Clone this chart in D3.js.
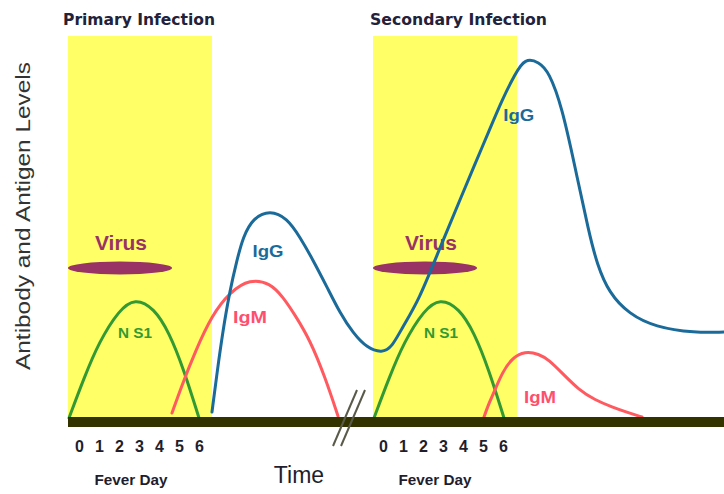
<!DOCTYPE html>
<html>
<head>
<meta charset="utf-8">
<script src="https://cdn.jsdelivr.net/npm/d3@7"></script>
<style>
  html, body { margin: 0; padding: 0; background: #ffffff; }
  svg { display: block; }
</style>
</head>
<body>
<svg id="chart" width="724" height="494"></svg>
<script>
// ---------------- data (time in "days", level 0-100) ----------------
const feverDays = [0, 1, 2, 3, 4, 5, 6];
const secondaryStart = 15.2;            // time at which secondary fever day 0 sits
const feverWindows = [[-0.55, 6.65], [14.7, 21.9]];
const panelTitles = ["Primary Infection", "Secondary Infection"];

const ns1Primary = [
  [-0.5, 0], [-0.5, 0], [0.25, 10], [1.0, 19], [2.0, 27], [2.8, 30],
  [3.75, 27.5], [4.5, 21.5], [5.25, 12], [6.0, 0], [6.0, 0]
];
const ns1Secondary = [
  [14.75, 0], [14.75, 0], [15.5, 10], [16.25, 19], [17.25, 27], [18.05, 30],
  [19.0, 27.5], [19.75, 21.5], [20.5, 12], [21.25, 0], [21.25, 0]
];
const igmPrimary = [
  [4.65, 1.25], [4.65, 1.25], [5.15, 8.25], [5.8, 16.5], [6.65, 25.75], [7.55, 31.5],
  [8.55, 34.75], [9.55, 33.75], [10.2, 30.25], [10.8, 25.75], [11.55, 19.5],
  [12.3, 10.25], [12.95, 0.5], [12.95, 0.5]
];
const igmSecondary = [
  [20.25, 0.25], [20.25, 0.25], [20.5, 3.75], [20.8, 7], [21.15, 11.25], [21.65, 15],
  [22.3, 16.75], [23.0, 16], [23.5, 14.5], [24.15, 11.25], [25.0, 7], [25.8, 4.5],
  [26.65, 2.75], [27.5, 1.25], [28.15, 0.25], [28.15, 0.25]
];
const igg = [
  [6.65, 1.5], [6.65, 1.5], [6.9, 11.25], [7.2, 22], [7.55, 32], [7.9, 39.5], [8.2, 45.25],
  [8.7, 50], [9.55, 52], [10.4, 50], [11.05, 45.25], [11.7, 39.5],
  [12.4, 32.75], [13.05, 26.25], [13.7, 21.25], [14.4, 17.5], [15.15, 16.25],
  [15.65, 17.75], [16.15, 22.5], [17.0, 29.5], [18.0, 42], [19.15, 55.75],
  [19.8, 63.5], [20.5, 71.75], [21.15, 79.5], [21.8, 86], [22.3, 90],
  [23.0, 89], [23.5, 86.5], [24.15, 77.75], [24.8, 62.75], [25.5, 46.25],
  [25.9, 38.5], [26.5, 31.25], [27.5, 26], [28.8, 22.75], [30.8, 21.25],
  [32.25, 21.5], [32.25, 21.5]
];
const virusCenters = [2.05, 17.3];
const virusLevel = 37.5;
const virusHalfWidth = 2.6;

// ---------------- setup ----------------
const svg = d3.select("#chart");
const x = d3.scaleLinear().domain([0, 32.25]).range([79, 724]);
const y = d3.scaleLinear().domain([0, 100]).range([418, 18]);

const C = {
  yellow: "#ffff66", base: "#333300", green: "#339933", red: "#ff5a5f",
  blue: "#1a6a9a", virus: "#993366", title: "#22223a", text: "#1e1e2e"
};

// yellow fever windows
svg.selectAll("rect.win").data(feverWindows).enter().append("rect")
  .attr("class", "win")
  .attr("x", d => x(d[0])).attr("width", d => x(d[1]) - x(d[0]))
  .attr("y", 36).attr("height", y(0) - 36)
  .attr("fill", C.yellow);

// panel titles
svg.selectAll("text.title").data(panelTitles).enter().append("text")
  .attr("class", "title")
  .attr("x", (d, i) => i === 0 ? 63 : 370).attr("y", 25)
  .attr("textLength", (d, i) => i === 0 ? 152 : 177)
  .attr("lengthAdjust", "spacingAndGlyphs")
  .style("font-family", "'DejaVu Sans', sans-serif").style("font-weight", "bold")
  .style("font-size", "15px").attr("fill", C.title).text(d => d);

// virus ellipses
svg.selectAll("ellipse.virus").data(virusCenters).enter().append("ellipse")
  .attr("cx", d => x(d)).attr("cy", y(virusLevel))
  .attr("rx", x(virusHalfWidth) - x(0)).attr("ry", 6.5)
  .attr("fill", C.virus);

// labels
function label(t, lvl, txt, color, size, len) {
  const el = svg.append("text")
    .attr("x", x(t)).attr("y", y(lvl)).attr("text-anchor", "middle")
    .style("font-family", "'Liberation Sans', Arial, sans-serif")
    .style("font-weight", "bold").style("font-size", size + "px")
    .attr("fill", color).text(txt);
  if (len) el.attr("textLength", len).attr("lengthAdjust", "spacingAndGlyphs");
  return el;
}
label(2.1, 42, "Virus", C.virus, 20, 52);
label(17.6, 42, "Virus", C.virus, 20, 52);
label(2.8, 20, "N S1", C.green, 15, 34);
label(18.1, 20, "N S1", C.green, 15, 34);
label(9.45, 40.25, "IgG", C.blue, 17, 31);
label(21.99, 74.25, "IgG", C.blue, 17, 31);
label(8.55, 23.75, "IgM", "#ff4f6e", 17, 34);
label(23.05, 3.75, "IgM", "#ff4f6e", 17, 32);

// curves
const line = d3.line().x(d => x(d[0])).y(d => y(d[1])).curve(d3.curveBasis);
const curves = [
  { d: ns1Primary, c: C.green },
  { d: ns1Secondary, c: C.green },
  { d: igmPrimary, c: C.red },
  { d: igmSecondary, c: C.red },
  { d: igg, c: C.blue }
];
svg.selectAll("path.curve").data(curves).enter().append("path")
  .attr("class", "curve")
  .attr("d", d => line(d.d))
  .attr("fill", "none").attr("stroke", d => d.c)
  .attr("stroke-width", 3).attr("stroke-linecap", "round");

// baseline bar
svg.append("rect")
  .attr("x", x(-0.55)).attr("y", y(0) - 1)
  .attr("width", 724 - x(-0.55)).attr("height", 10)
  .attr("fill", C.base);

// axis break marks
[0, 8].forEach(off => {
  svg.append("line")
    .attr("x1", 333 + off).attr("y1", 446).attr("x2", 357 + off).attr("y2", 390)
    .attr("stroke", "#5a5a4a").attr("stroke-width", 2);
});

// fever day ticks (two panels) via axis scale
[0, secondaryStart].forEach(start => {
  const g = svg.append("g").attr("transform", "translate(0,452)");
  const ax = d3.axisBottom(x).tickValues(feverDays.map(d => d + start))
    .tickFormat((d, i) => feverDays[i]).tickSize(0).tickPadding(0);
  g.call(ax);
  g.select(".domain").remove();
  g.selectAll("text")
    .attr("y", 0).attr("dy", 0)
    .style("font-family", "'Liberation Sans', Arial, sans-serif")
    .style("font-weight", "bold").style("font-size", "16px")
    .attr("fill", C.text);
  svg.append("text")
    .attr("x", x(start + 2.6)).attr("y", 485).attr("text-anchor", "middle")
    .attr("textLength", 73).attr("lengthAdjust", "spacingAndGlyphs")
    .style("font-family", "'Liberation Sans', Arial, sans-serif")
    .style("font-weight", "bold").style("font-size", "14px")
    .attr("fill", C.text).text("Fever Day");
});

// axis titles
svg.append("text")
  .attr("x", 299).attr("y", 483).attr("text-anchor", "middle")
  .style("font-family", "'Liberation Sans', Arial, sans-serif")
  .style("font-size", "23px").attr("fill", C.text).text("Time");

svg.append("text")
  .attr("transform", "translate(30,216) rotate(-90)")
  .attr("text-anchor", "middle")
  .attr("textLength", 308).attr("lengthAdjust", "spacingAndGlyphs")
  .style("font-family", "'Liberation Sans', Arial, sans-serif")
  .style("font-size", "20px").attr("fill", "#333333")
  .text("Antibody and Antigen Levels");
</script>
</body>
</html>
